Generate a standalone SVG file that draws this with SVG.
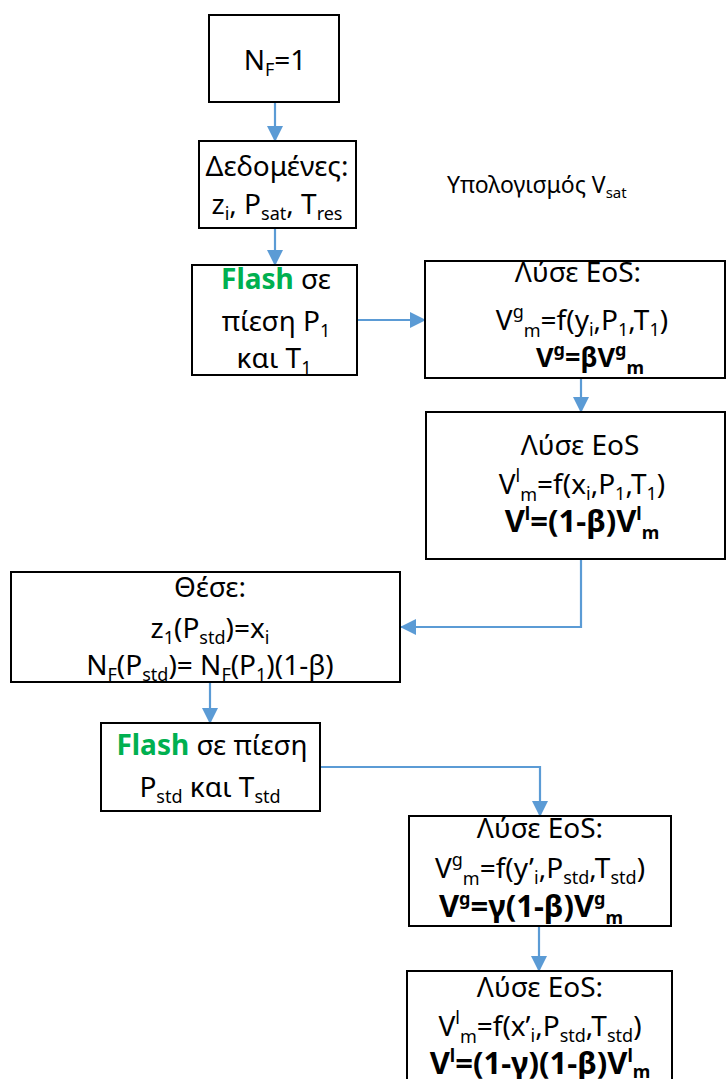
<svg xmlns="http://www.w3.org/2000/svg" width="726" height="1079" viewBox="0 0 726 1079">
<defs>
<marker id="ah" markerUnits="userSpaceOnUse" markerWidth="16" markerHeight="16" viewBox="0 0 16 16" refX="15" refY="8" orient="auto">
<path d="M0,0 L16,8 L0,16 Z" fill="#5B9BD5"/>
</marker>
<style>
.box{fill:#fff;stroke:#000;stroke-width:2}
.t{font-family:"Noto Sans","DejaVu Sans",sans-serif;font-size:28px;fill:#000;text-anchor:middle}
.b{font-weight:bold;font-size:31px}
.b4{font-weight:bold;font-size:27px}
.g{fill:#00B050;font-weight:bold}
.s{font-size:18px}
.c{fill:none;stroke:#5B9BD5;stroke-width:2.2;marker-end:url(#ah)}
.lab{font-family:"Noto Sans","DejaVu Sans",sans-serif;font-size:23px;fill:#000}
.ls{font-size:15px}
</style>
</defs>
<g id="connectors">
<path class="c" d="M275,102 V141"/>
<path class="c" d="M275,228 V265"/>
<path class="c" d="M357,320 H425"/>
<path class="c" d="M581,378 V412"/>
<path class="c" d="M581,559 V627 H401"/>
<path class="c" d="M210,682 V723"/>
<path class="c" d="M320,767 H540 V816"/>
<path class="c" d="M539,926 V971"/>
</g>
<g id="n1">
<rect class="box" x="209" y="15" width="130" height="87"/>
<text class="t" x="275" y="70">N<tspan class="s" dy="6">F</tspan><tspan dy="-6">=1</tspan></text>
</g>
<g id="n2">
<rect class="box" x="199" y="141" width="157" height="87"/>
<text class="t" x="277" y="176">Δεδομένες:</text>
<text class="t" x="277" y="214">z<tspan class="s" dy="6">i</tspan><tspan dy="-6">, P</tspan><tspan class="s" dy="6">sat</tspan><tspan dy="-6">, T</tspan><tspan class="s" dy="6">res</tspan></text>
</g>
<g id="n3">
<rect class="box" x="192" y="265" width="165" height="110"/>
<text class="t" x="276" y="289"><tspan class="g">Flash</tspan> σε</text>
<text class="t" x="276" y="331">πίεση P<tspan class="s" dy="6">1</tspan></text>
<text class="t" x="274" y="368">και T<tspan class="s" dy="6">1</tspan></text>
</g>
<g id="label">
<text class="lab" x="447" y="193">Υπολογισμός V<tspan class="ls" dy="5">sat</tspan></text>
</g>
<g id="n4">
<rect class="box" x="425" y="261" width="300" height="117"/>
<text class="t" x="578" y="282">Λύσε EoS:</text>
<text class="t" x="582" y="330">V<tspan class="s" dy="-12">g</tspan><tspan class="s" dy="19">m</tspan><tspan dy="-7">=f(y</tspan><tspan class="s" dy="6">i</tspan><tspan dy="-6">,P</tspan><tspan class="s" dy="6">1</tspan><tspan dy="-6">,T</tspan><tspan class="s" dy="6">1</tspan><tspan dy="-6">)</tspan></text>
<text class="t b4" x="590" y="367">V<tspan class="s" dy="-11">g</tspan><tspan dy="11">=βV</tspan><tspan class="s" dy="-11">g</tspan><tspan class="s" dy="18">m</tspan></text>
</g>
<g id="n5">
<rect class="box" x="426" y="412" width="299" height="147"/>
<text class="t" x="580" y="455">Λύσε EoS</text>
<text class="t" x="582" y="494">V<tspan class="s" dy="-12">l</tspan><tspan class="s" dy="19">m</tspan><tspan dy="-7">=f(x</tspan><tspan class="s" dy="6">i</tspan><tspan dy="-6">,P</tspan><tspan class="s" dy="6">1</tspan><tspan dy="-6">,T</tspan><tspan class="s" dy="6">1</tspan><tspan dy="-6">)</tspan></text>
<text class="t b" x="582" y="532">V<tspan class="s" dy="-12">l</tspan><tspan dy="12">=(1-β)V</tspan><tspan class="s" dy="-12">l</tspan><tspan class="s" dy="19">m</tspan></text>
</g>
<g id="n6">
<rect class="box" x="11" y="572" width="389" height="110"/>
<text class="t" x="210" y="597">Θέσε:</text>
<text class="t" x="210" y="638">z<tspan class="s" dy="6">1</tspan><tspan dy="-6">(P</tspan><tspan class="s" dy="6">std</tspan><tspan dy="-6">)=x</tspan><tspan class="s" dy="6">i</tspan></text>
<text class="t" x="210" y="675">N<tspan class="s" dy="6">F</tspan><tspan dy="-6">(P</tspan><tspan class="s" dy="6">std</tspan><tspan dy="-6">)= N</tspan><tspan class="s" dy="6">F</tspan><tspan dy="-6">(P</tspan><tspan class="s" dy="6">1</tspan><tspan dy="-6">)(1-β)</tspan></text>
</g>
<g id="n7">
<rect class="box" x="101" y="723" width="219" height="88"/>
<text class="t" x="212" y="755"><tspan class="g">Flash</tspan> σε πίεση</text>
<text class="t" x="210" y="797">P<tspan class="s" dy="6">std</tspan><tspan dy="-6"> και T</tspan><tspan class="s" dy="6">std</tspan></text>
</g>
<g id="n8">
<rect class="box" x="409" y="816" width="262" height="110"/>
<text class="t" x="540" y="838">Λύσε EoS:</text>
<text class="t" x="540" y="878">V<tspan class="s" dy="-12">g</tspan><tspan class="s" dy="19">m</tspan><tspan dy="-7">=f(y’</tspan><tspan class="s" dy="6">i</tspan><tspan dy="-6">,P</tspan><tspan class="s" dy="6">std</tspan><tspan dy="-6">,T</tspan><tspan class="s" dy="6">std</tspan><tspan dy="-6">)</tspan></text>
<text class="t b" x="531" y="917">V<tspan class="s" dy="-12">g</tspan><tspan dy="12">=γ(1-β)V</tspan><tspan class="s" dy="-12">g</tspan><tspan class="s" dy="19">m</tspan></text>
</g>
<g id="n9">
<rect class="box" x="407" y="971" width="265" height="120"/>
<text class="t" x="540" y="997">Λύσε EoS:</text>
<text class="t" x="540" y="1036">V<tspan class="s" dy="-12">l</tspan><tspan class="s" dy="19">m</tspan><tspan dy="-7">=f(x’</tspan><tspan class="s" dy="6">i</tspan><tspan dy="-6">,P</tspan><tspan class="s" dy="6">std</tspan><tspan dy="-6">,T</tspan><tspan class="s" dy="6">std</tspan><tspan dy="-6">)</tspan></text>
<text class="t b" x="540" y="1074">V<tspan class="s" dy="-12">l</tspan><tspan dy="12">=(1-γ)(1-β)V</tspan><tspan class="s" dy="-12">l</tspan><tspan class="s" dy="16">m</tspan></text>
</g>
</svg>
